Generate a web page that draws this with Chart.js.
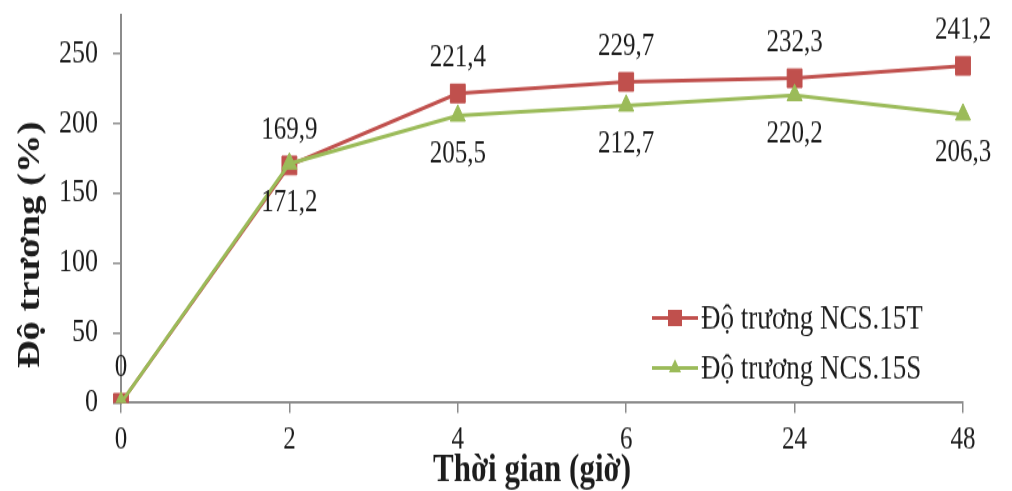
<!DOCTYPE html>
<html>
<head>
<meta charset="utf-8">
<script src="https://cdn.jsdelivr.net/npm/chart.js@4/dist/chart.umd.min.js"></script>
<style>
  html, body { margin: 0; padding: 0; background: #fff; }
  body { width: 1012px; height: 491px; }
  #wrap { width: 1012px; height: 393px; transform: scaleY(1.2494); transform-origin: 0 0; }
  canvas { display: block; }
</style>
</head>
<body>
<div id="wrap"><canvas id="c" width="1012" height="393"></canvas></div>
<script>
// Swelling over time (hours) for the two samples
const hours = ['0', '2', '4', '6', '24', '48'];
const swellNCS15T = [0, 169.9, 221.4, 229.7, 232.3, 241.2];
const swellNCS15S = [0, 171.2, 205.5, 212.7, 220.2, 206.3];
const seriesNames = ['Độ trương NCS.15T', 'Độ trương NCS.15S'];
const yTickValues = [0, 50, 100, 150, 200, 250];

const RED = '#C0504D';
const GREEN = '#9BBB59';
const AXIS = '#8c8c8c';
const TEXT = '#1c1c1c';
const SERIF = "'Liberation Serif', 'Times New Roman', serif";

const fmt = v => (v === 0 ? '0' : v.toFixed(1).replace('.', ','));

// value labels: red series above its points, green series below
const valueLabels = {
  id: 'valueLabels',
  afterDatasetsDraw(chart) {
    const ctx = chart.ctx;
    ctx.save();
    ctx.font = '25px ' + SERIF;
    ctx.fillStyle = TEXT;
    ctx.textAlign = 'center';
    ctx.textBaseline = 'middle';
    chart.data.datasets.forEach((ds, i) => {
      const meta = chart.getDatasetMeta(i);
      meta.data.forEach((pt, j) => {
        if (ds.skipLabels && ds.skipLabels.includes(j)) return;
        ctx.fillText(fmt(ds.data[j]), pt.x, pt.y + ds.labelOffset);
      });
    });
    ctx.restore();
  }
};

// axis titles and legend drawn inside the plot
const extras = {
  id: 'extras',
  afterDraw(chart) {
    const ctx = chart.ctx;
    ctx.save();
    ctx.fillStyle = TEXT;
    ctx.textAlign = 'center';
    ctx.textBaseline = 'middle';
    ctx.font = 'bold 31px ' + SERIF;
    ctx.fillText('Thời gian (giờ)', 532, 377);
    ctx.save();
    ctx.translate(31, 196);
    ctx.rotate(-Math.PI / 2);
    ctx.fillText('Độ trương (%)', 0, 0);
    ctx.restore();

    // legend
    chart.data.datasets.forEach((ds, i) => {
      const y = 254.5 + i * 40;
      ctx.strokeStyle = ds.borderColor;
      ctx.lineWidth = 3;
      ctx.beginPath();
      ctx.moveTo(652, y);
      ctx.lineTo(698, y);
      ctx.stroke();
      ctx.fillStyle = ds.backgroundColor;
      ctx.beginPath();
      if (ds.pointStyle === 'rect') {
        ctx.rect(668, y - 6.5, 14, 13);
      } else {
        const r = 7;
        ctx.moveTo(675, y - r);
        ctx.lineTo(675 + r * 0.866, y + r / 2);
        ctx.lineTo(675 - r * 0.866, y + r / 2);
        ctx.closePath();
      }
      ctx.fill();
      ctx.fillStyle = TEXT;
      ctx.textAlign = 'left';
      ctx.font = '27px ' + SERIF;
      ctx.fillText(ds.label, 701, y + 1);
    });
    ctx.restore();
  }
};

new Chart(document.getElementById('c'), {
  type: 'line',
  data: {
    labels: hours,
    datasets: [
      {
        label: seriesNames[0],
        data: swellNCS15T,
        borderColor: RED,
        backgroundColor: RED,
        borderWidth: 3,
        pointStyle: 'rect',
        pointRadius: 10.5,
        pointBorderWidth: 1,
        pointBorderColor: RED,
        pointBackgroundColor: RED,
        tension: 0,
        order: 1,
        labelOffset: -28,
        skipLabels: []
      },
      {
        label: seriesNames[1],
        data: swellNCS15S,
        borderColor: GREEN,
        backgroundColor: GREEN,
        borderWidth: 3,
        pointStyle: 'triangle',
        pointRadius: 8.7,
        pointBorderWidth: 1,
        pointBorderColor: GREEN,
        pointBackgroundColor: GREEN,
        tension: 0,
        order: 0,
        labelOffset: 31,
        skipLabels: [0]
      }
    ]
  },
  options: {
    responsive: false,
    animation: false,
    devicePixelRatio: 1,
    layout: { padding: { top: 10.4, right: 49, bottom: 0, left: 0 } },
    plugins: {
      legend: { display: false },
      tooltip: { enabled: false }
    },
    scales: {
      x: {
        type: 'category',
        offset: false,
        grid: { drawOnChartArea: false, drawTicks: true, tickLength: 8, color: AXIS, lineWidth: 1.5 },
        border: { display: true, color: AXIS, width: 2 },
        ticks: { font: { family: SERIF, size: 25 }, color: TEXT, padding: 7, maxRotation: 0, autoSkip: false },
        afterFit(scale) {
          scale.height = 70.6;
          scale.paddingLeft = 0;
          scale.paddingRight = 0;
        }
      },
      y: {
        min: 0,
        max: 278,
        grid: { drawOnChartArea: false, drawTicks: true, tickLength: 8, color: AXIS, lineWidth: 1.5 },
        border: { display: true, color: AXIS, width: 2 },
        ticks: { stepSize: 50, font: { family: SERIF, size: 26 }, color: TEXT, padding: 15 },
        afterBuildTicks(scale) {
          scale.ticks = yTickValues.map(v => ({ value: v }));
        },
        afterFit(scale) {
          scale.width = 121;
          scale.paddingTop = 0;
          scale.paddingBottom = 0;
        }
      }
    }
  },
  plugins: [valueLabels, extras]
});
</script>
</body>
</html>
